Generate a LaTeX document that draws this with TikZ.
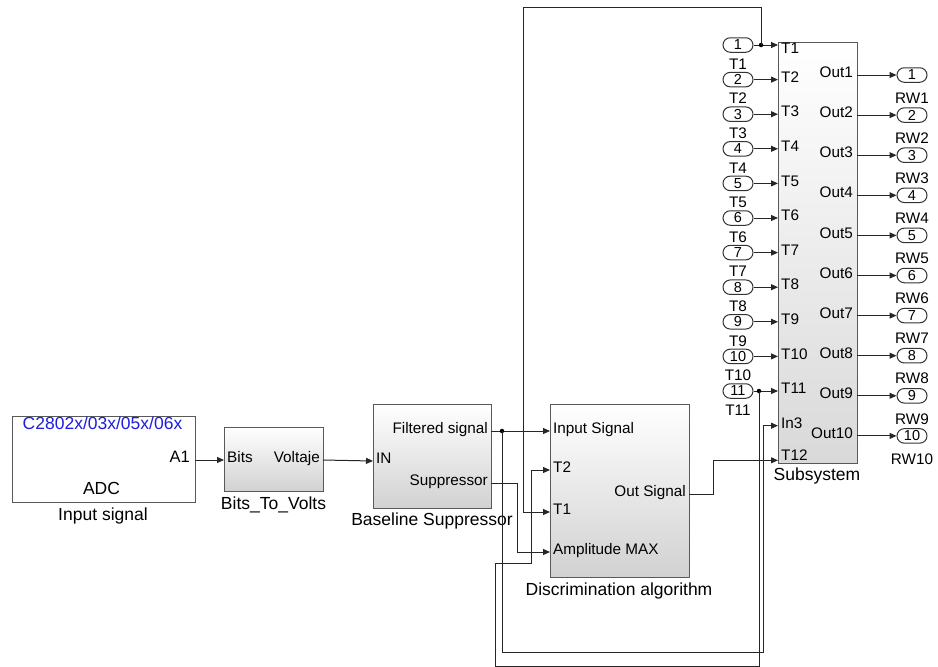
\documentclass[tikz,border=0pt]{standalone}
\usepackage{fontspec}
\setmainfont{Liberation Sans}
\usetikzlibrary{arrows.meta,shapes.misc}
\definecolor{adcblue}{RGB}{30,30,220}
\begin{document}
\begin{tikzpicture}[x=1pt,y=-1pt,
  blk/.style={draw=black!65, line width=1pt, top color=white, bottom color=black!18, inner sep=0, anchor=north west},
  wblk/.style={draw=black!65, line width=1pt, fill=white, inner sep=0, anchor=north west},
  wire/.style={draw=black!85, line width=1pt},
  arr/.style={wire, -{Triangle[length=7pt,width=6pt]}},
  dot/.style={circle, fill=black, inner sep=0, minimum size=4.5pt},
  pill/.style={rounded rectangle, draw=black!80, line width=1pt, minimum width=30pt, minimum height=14.5pt, inner sep=0, font=\fontsize{14.5}{14.5}\selectfont},
  plbl/.style={inner sep=0, font=\fontsize{15.3}{16}\selectfont},
  tlbl/.style={inner sep=0, font=\fontsize{17.5}{18}\selectfont}]
\useasboundingbox (0,0) rectangle (938,667);

% ---------- blocks ----------
\node[wblk, minimum width=183pt, minimum height=86pt] (adc) at (12,416) {};
\node[blk, minimum width=99pt, minimum height=64pt] (b2v) at (224,427) {};
\node[blk, minimum width=118pt, minimum height=104pt] (bs) at (373,404) {};
\node[blk, minimum width=139pt, minimum height=173pt] (da) at (550,404) {};
\node[blk, minimum width=79pt, minimum height=421pt, bottom color=black!15] (ss) at (778,42) {};

% ---------- block texts ----------
\node[tlbl, text=adcblue, anchor=mid] (adctxt) at (102.5,427) {C2802x/03x/05x/06x};
\node[plbl, font=\fontsize{16.5}{17}\selectfont, anchor=mid east] (adcA1) at (190,460) {A1};
\node[tlbl, anchor=mid] (adcname) at (101.5,492) {ADC};
\node[tlbl, anchor=mid] (adclbl) at (103,518) {Input signal};

\node[plbl, anchor=mid west] (b2vin) at (227,460) {Bits};
\node[plbl, anchor=mid east] (b2vout) at (320,460) {Voltaje};
\node[tlbl, anchor=mid] (b2vlbl) at (273.5,507) {Bits\_To\_Volts};

\node[plbl, anchor=mid west] (bsin) at (376,461) {IN};
\node[plbl, anchor=mid east] (bsf) at (488,431) {Filtered signal};
\node[plbl, anchor=mid east] (bss) at (488,483) {Suppressor};
\node[tlbl, anchor=mid] (bslbl) at (432,523) {Baseline Suppressor};

\node[plbl, anchor=mid west] (dain) at (553,431) {Input Signal};
\node[plbl, anchor=mid west] (daT2) at (553,470) {T2};
\node[plbl, anchor=mid west] (daT1) at (553,512) {T1};
\node[plbl, anchor=mid west] (daamp) at (553,552) {Amplitude MAX};
\node[plbl, anchor=mid east] (daout) at (686,494) {Out Signal};
\node[tlbl, anchor=mid] (dalbl) at (619,593) {Discrimination algorithm};

\node[plbl, anchor=mid west] (sslIn3) at (781,425.7) {In3};
\node[plbl, anchor=mid west] (sslT12) at (781,458) {T12};
\node[tlbl, anchor=mid] (sslbl) at (817,478) {Subsystem};

% ---------- port coordinates ----------
\coordinate (pA1) at (195,460);
\coordinate (pBits) at (224,460);
\coordinate (pVolt) at (323,460);
\coordinate (pIN) at (373,461);
\coordinate (pFilt) at (491,431);
\coordinate (pSupp) at (491,483);
\coordinate (pDin) at (550,431);
\coordinate (pDT2) at (550,470);
\coordinate (pDT1) at (550,512);
\coordinate (pDamp) at (550,552);
\coordinate (pDout) at (689,494);
\coordinate (pIn3) at (778,425.7);
\coordinate (pT12) at (778,460.3);

% ---------- subsystem inports ----------
\foreach \i in {1,...,11} {
  \pgfmathsetmacro\yy{45+34.6*(\i-1)}
  \node[pill] (in\i) at (738,\yy) {\i};
  \node[plbl] (lin\i) at (738,\yy+19) {T\i};
  \coordinate (ssT\i) at (778,\yy);
  \draw[arr] (in\i.east) -- (ssT\i);
}
\foreach \i in {2,...,11} {
  \pgfmathsetmacro\yy{45+34.6*(\i-1)}
  \node[plbl, anchor=mid west] (sslT\i) at (781,\yy) {T\i};
}
\node[plbl, anchor=mid west] (sslT1) at (781,51) {T1};

% ---------- subsystem outports ----------
\foreach \i in {1,...,10} {
  \pgfmathsetmacro\yy{75+40.1*(\i-1)}
  \coordinate (ssO\i) at (857,\yy);
  \node[plbl, anchor=mid east] (sslO\i) at (853,\yy) {Out\i};
  \node[pill] (out\i) at (912,\yy) {\i};
  \node[plbl] (lout\i) at (912,\yy+23) {RW\i};
  \draw[arr] (ssO\i) -- (out\i.west);
}

% ---------- wires ----------
\draw[arr] (pA1) -- (pBits);
\draw[arr] (pVolt) -- (pIN);
\draw[arr] (pFilt) -- (pDin);
\draw[arr] (pSupp) -| (517,552) -- (pDamp);
\draw[arr] (pDout) -| (713,460.3) -- (pT12);

% branch from T1 inport
\node[dot] (br1) at (761,45) {};
\draw[arr] (br1.center) |- (523,7) |- (pDT1);

% branch from T11 inport
\node[dot] (br11) at (759,391) {};
\draw[arr] (br11.center) -- (759,666) -| (495,563) -| (531,470) -- (pDT2);

% branch from filtered signal
\node[dot] (brf) at (502,431) {};
\draw[arr] (brf.center) -- (502,652) -| (763,425.7) -- (pIn3);
\end{tikzpicture}
\end{document}
